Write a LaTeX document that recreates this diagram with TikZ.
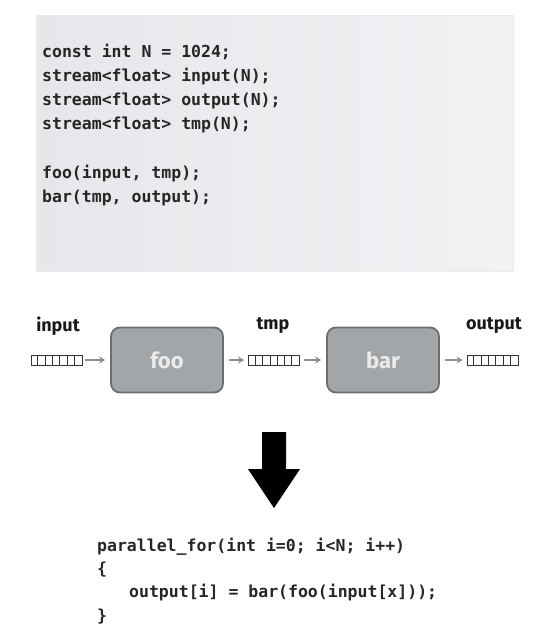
\documentclass[tikz,border=0pt]{standalone}
\usepackage{fontspec}
\setmonofont{DejaVu Sans Mono}
\setsansfont{Fira Sans}
\usetikzlibrary{positioning, arrows.meta, calc}

\definecolor{panel}{HTML}{E6E7EA}
\definecolor{panellight}{HTML}{F2F2F5}
\definecolor{kernelfill}{HTML}{A3A6A9}
\definecolor{kernelline}{HTML}{6B6E71}
\definecolor{flowgray}{HTML}{8E8E8E}

\newcommand{\codefont}{\ttfamily\bfseries\fontsize{16.5}{20}\selectfont}
\newcommand{\labelfont}{\sffamily\bfseries\fontsize{18}{20}\selectfont}
\newcommand{\kernelfont}{\sffamily\bfseries\fontsize{22}{24}\selectfont}

\tikzset{
  codeline/.style={font=\codefont, anchor=base west, inner sep=0pt, text=black!85},
  kernel/.style={draw=kernelline, line width=1.8pt, fill=kernelfill,
    rounded corners=9pt, minimum width=112pt, minimum height=65pt,
    font=\kernelfont, text=white!92!black},
  buflabel/.style={font=\labelfont, inner sep=0pt, text=black!90},
  flow/.style={draw=flowgray, line width=1.8pt, -{Stealth[length=6pt, width=7pt]}}
}

% a stream buffer: seven small cells
\newcommand{\streambuf}[2]{%
  \node[draw=black!80, line width=0.8pt, minimum width=51pt, minimum height=10pt,
    inner sep=0pt] (#1) at #2 {};
  \foreach \k in {1,...,6}
    \draw[black!80, line width=0.8pt] ($(#1.south west)+(\k*51/7,0)$) -- ++(0,-10);
}

\begin{document}
\begin{tikzpicture}[x=1pt, y=-1pt]
  \useasboundingbox (0,0) rectangle (557,641);

  % code panel
  \shade[left color=panel, right color=panellight, draw=black!8]
    (36,15) rectangle (513,271);
  \node[codeline] (l1) at (42,57)  {const int N = 1024;};
  \node[codeline] (l2) at (42,81)  {stream<float> input(N);};
  \node[codeline] (l3) at (42,105) {stream<float> output(N);};
  \node[codeline] (l4) at (42,129) {stream<float> tmp(N);};
  \node[codeline] (l5) at (42,178) {foo(input, tmp);};
  \node[codeline] (l6) at (42,202) {bar(tmp, output);};

  % stream graph
  \node[kernel] (foo) at (167,360) {foo};
  \node[kernel] (bar) at (383,360) {bar};

  \streambuf{inbuf}{(56.5,360)}
  \streambuf{tmpbuf}{(274,360)}
  \streambuf{outbuf}{(492.5,360)}

  \node[buflabel] (inlab) at (58,326) {input};
  \node[buflabel] (tmplab) at (273,326) {tmp};
  \node[buflabel] (outlab) at (494,326) {output};

  \draw[flow] ([xshift=3pt]inbuf.east) -- ([xshift=-5pt]foo.west);
  \draw[flow] ([xshift=5pt]foo.east) -- ([xshift=-4pt]tmpbuf.west);
  \draw[flow] ([xshift=4pt]tmpbuf.east) -- ([xshift=-5pt]bar.west);
  \draw[flow] ([xshift=5pt]bar.east) -- ([xshift=-4pt]outbuf.west);

  % big arrow
  \fill[black] (262,432) -- (286,432) -- (286,469) -- (300,469)
    -- (274,508) -- (248,469) -- (262,469) -- cycle;

  % fused loop
  \node[codeline] (p1) at (97,551) {parallel\_for(int i=0; i<N; i++)};
  \node[codeline] (p2) at (97,574) {\{};
  \node[codeline] (p3) at (129,597) {output[i] = bar(foo(input[x]));};
  \node[codeline] (p4) at (97,621) {\}};
\end{tikzpicture}
\end{document}
